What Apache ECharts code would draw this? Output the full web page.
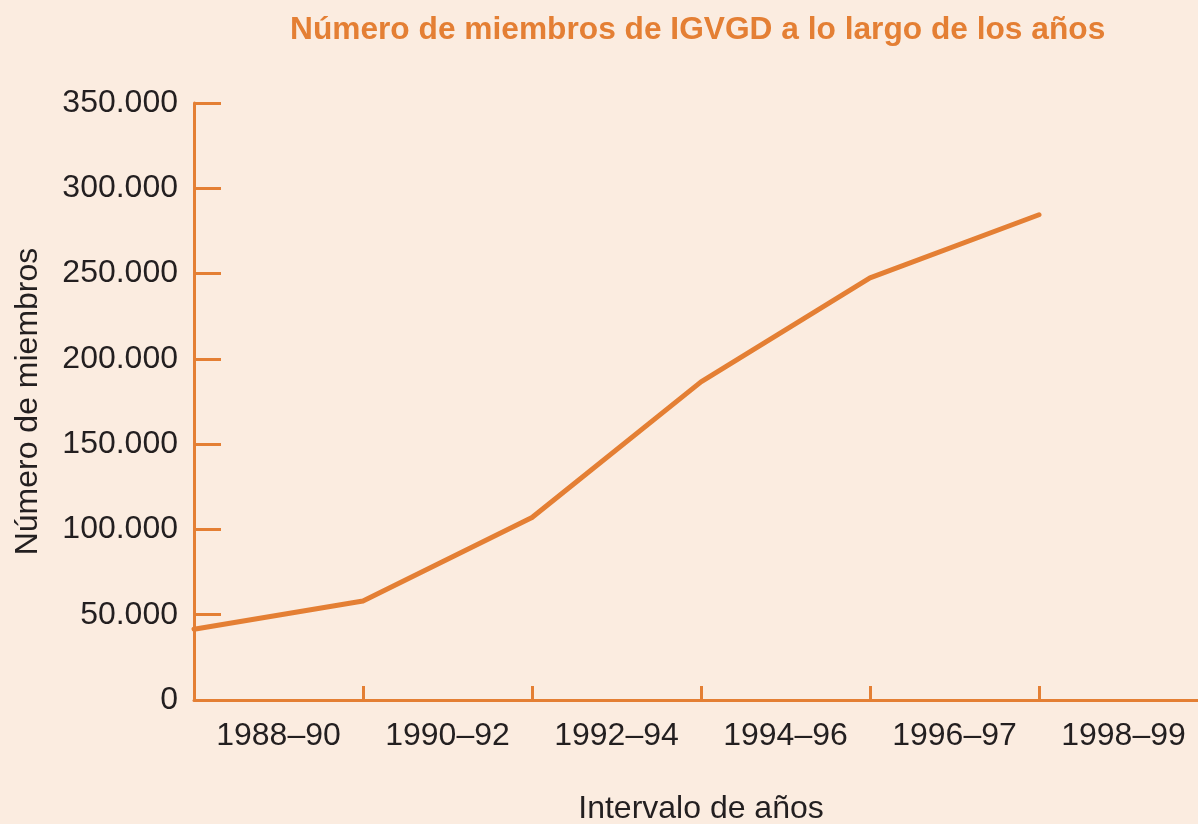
<!DOCTYPE html>
<html>
<head>
<meta charset="utf-8">
<script src="https://cdn.jsdelivr.net/npm/echarts@6/dist/echarts.min.js"></script>
<style>
html,body{margin:0;padding:0;background:#FBECE0;}
#chart{width:1198px;height:824px;}
</style>
</head>
<body>
<div id="chart"></div>
<script>
var periods = ['1988–90', '1990–92', '1992–94', '1994–96', '1996–97', '1998–99'];
var members = [41500, 58000, 107000, 186500, 247500, 284500];
var yTicks = { min: 0, max: 350000, interval: 50000 };

var ORANGE = '#E47F34';
var TEXT = '#231F20';
var FONT = '"Liberation Sans", Arial, Helvetica, sans-serif';

var lineData = members.map(function (v, i) { return [i, v]; });

var chart = echarts.init(document.getElementById('chart'), null, { renderer: 'canvas' });
chart.setOption({
  backgroundColor: '#FBECE0',
  animation: false,
  title: {
    text: 'Número de miembros de IGVGD a lo largo de los años',
    left: 285,
    top: 9,
    textStyle: { color: ORANGE, fontSize: 31.7, fontWeight: 'bold', fontFamily: FONT }
  },
  grid: { left: 194, top: 103, width: 1014, bottom: 124, containLabel: false, outerBoundsMode: 'none' },
  xAxis: [
    {
      type: 'category',
      data: periods,
      boundaryGap: true,
      name: 'Intervalo de años',
      nameLocation: 'middle',
      nameGap: 93,
      nameTextStyle: { color: TEXT, fontSize: 32, fontFamily: FONT },
      axisLine: { show: true, lineStyle: { color: ORANGE, width: 3 } },
      axisTick: { show: true, inside: true, length: 14, lineStyle: { color: ORANGE, width: 3 } },
      axisLabel: { color: TEXT, fontSize: 32, fontFamily: FONT, margin: 20, interval: 0 },
      splitLine: { show: false }
    },
    {
      type: 'value',
      min: 0,
      max: 6,
      show: false,
      position: 'bottom'
    }
  ],
  yAxis: {
    type: 'value',
    min: yTicks.min,
    max: yTicks.max,
    interval: yTicks.interval,
    name: 'Número de miembros',
    nameLocation: 'middle',
    nameGap: 150,
    nameRotate: 90,
    nameTextStyle: { color: TEXT, fontSize: 32, fontFamily: FONT },
    axisLine: { show: true, lineStyle: { color: ORANGE, width: 3 } },
    axisTick: { show: true, inside: true, length: 27, lineStyle: { color: ORANGE, width: 3 } },
    axisLabel: {
      color: TEXT, fontSize: 32, fontFamily: FONT, margin: 16,
      padding: [4, 0, 0, 0],
      formatter: function (v) { return String(v).replace(/\B(?=(\d{3})+(?!\d))/g, '.'); }
    },
    splitLine: { show: false }
  },
  series: [{
    type: 'line',
    xAxisIndex: 1,
    data: lineData,
    symbol: 'none',
    lineStyle: { color: ORANGE, width: 5, cap: 'round', join: 'round' }
  }]
});
</script>
</body>
</html>
